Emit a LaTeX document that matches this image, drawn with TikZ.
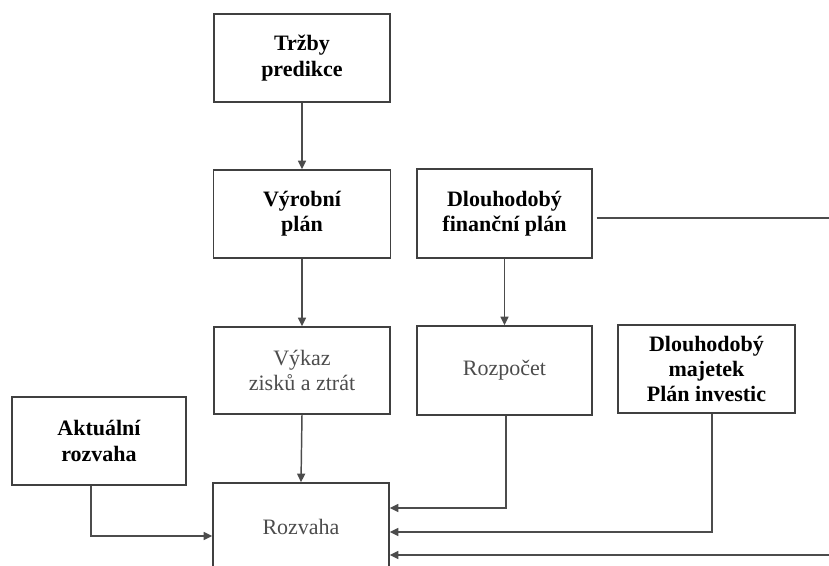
\documentclass[tikz,border=0pt]{standalone}
\usepackage{fontspec}
\setmainfont{Liberation Serif}
\usetikzlibrary{arrows.meta,calc}
\begin{document}
\begin{tikzpicture}[x=0.75pt,y=-0.75pt,
  box/.style={draw=black!75,line width=1.1pt,rectangle,inner sep=0pt,align=center,
    font=\fontsize{16.5}{19}\selectfont},
  boldbox/.style={box,font=\fontsize{16.5}{19}\selectfont\bfseries,text=black},
  plainbox/.style={box,text=black!70},
  conn/.style={draw=black!70,line width=1.1pt},
  arr/.style={conn,-{Triangle[length=6.5pt,width=6pt]}}]
\useasboundingbox (0,0) rectangle (829,566);
\clip (0,0) rectangle (829,566);
\node[boldbox,minimum width=132pt,minimum height=66pt] (tr) at (302,58) {Tržby\\predikce};
\node[boldbox,minimum width=132.75pt,minimum height=66pt] (vp) at (302,214) {Výrobní\\plán};
\node[boldbox,minimum width=131.25pt,minimum height=66.75pt] (dfp) at (504.5,213.5) {Dlouhodobý\\finanční plán};
\node[plainbox,minimum width=132pt,minimum height=65.25pt] (vz) at (302,370.5) {Výkaz\\zisků a ztrát};
\node[plainbox,minimum width=131.25pt,minimum height=66.75pt] (rz) at (504.5,370.5) {Rozpočet};
\node[boldbox,minimum width=132.75pt,minimum height=66pt] (dm) at (706.5,369) {Dlouhodobý\\majetek\\Plán investic};
\node[boldbox,minimum width=130.5pt,minimum height=66pt] (ar) at (99,441) {Aktuální\\rozvaha};
\node[plainbox,minimum width=132pt,minimum height=66pt] (rv) at (301,527) {Rozvaha};
\coordinate (yA) at (0,536);
\coordinate (yB) at (0,508);
\coordinate (yC) at (0,532);
\coordinate (yD) at (0,555);
\coordinate (yE) at (0,218);
\coordinate (edgeTop) at (829,218);
\coordinate (edgeBot) at (829,555);
\draw[arr] (tr.south) -- (vp.north);
\draw[arr] (vp.south) -- (vz.north);
\draw[arr] (dfp.south) -- (rz.north);
\draw[arr] (vz.south) -- (rv.north);
\draw[arr] ([xshift=-6pt]ar.south) |- (rv.west |- yA);
\draw[arr] ([xshift=1pt]rz.south) |- (rv.east |- yB);
\draw[arr] ([xshift=4pt]dm.south) |- (rv.east |- yC);
\draw[arr] (edgeBot) -- (rv.east |- yD);
\draw[conn] ([xshift=3pt]dfp.east |- yE) -- (edgeTop);
\end{tikzpicture}
\end{document}
